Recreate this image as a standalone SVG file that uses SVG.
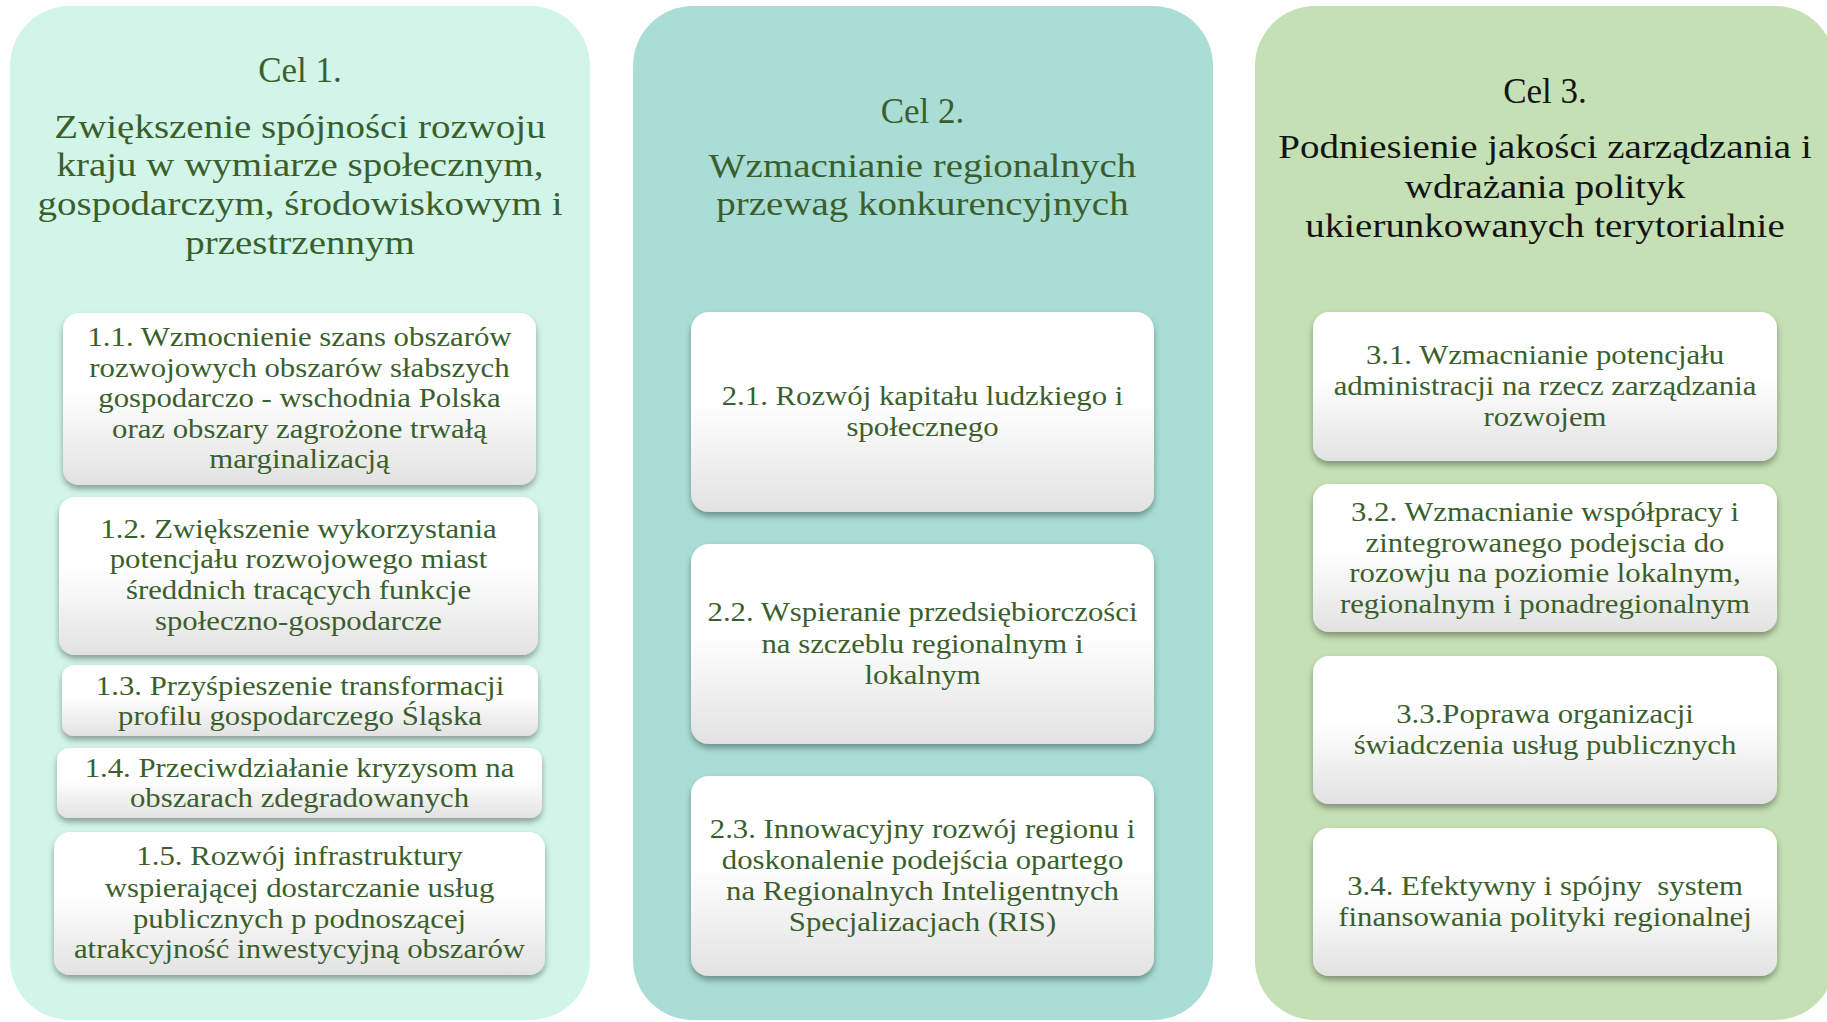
<svg xmlns="http://www.w3.org/2000/svg" width="1827" height="1022" viewBox="0 0 1827 1022">
<style>
.t{font-family:"Liberation Serif","Times New Roman",serif;font-size:34.5px;fill:#3B5F2C;text-anchor:middle}
.c{font-size:35px}
.t3{fill:#141414}
.s{font-family:"Liberation Serif","Times New Roman",serif;font-size:27px;fill:#3B5F2C;text-anchor:middle}
.box{fill:url(#bg);filter:url(#sh)}
</style>
<defs>
<linearGradient id="bg" x1="0" y1="0" x2="0" y2="1">
<stop offset="0" stop-color="#FFFFFF"/>
<stop offset="0.45" stop-color="#FFFFFF"/>
<stop offset="1" stop-color="#E2E2E2"/>
</linearGradient>
<filter id="sh" x="-10%" y="-10%" width="120%" height="130%">
<feDropShadow dx="0" dy="4" stdDeviation="3" flood-color="#000" flood-opacity="0.35"/>
</filter>
</defs>
<rect width="1827" height="1022" fill="#FFFFFF"/>

<g id="panel1">
<rect x="10" y="6" width="580" height="1014" rx="60" fill="#D2F5EA"/>
<text class="t c" x="300" y="82">Cel 1.</text>
<text class="t" transform="translate(300 0) scale(1.13 1)"><tspan x="0" y="138">Zwiększenie spójności rozwoju</tspan><tspan x="0" y="176">kraju w wymiarze społecznym,</tspan><tspan x="0" y="215">gospodarczym, środowiskowym i</tspan><tspan x="0" y="254">przestrzennym</tspan></text>
</g>
<g id="panel2">
<rect x="633" y="6" width="580" height="1014" rx="60" fill="#A9DDD6"/>
<text class="t c" x="922.5" y="123">Cel 2.</text>
<text class="t" transform="translate(922.5 0) scale(1.13 1)"><tspan x="0" y="177">Wzmacnianie regionalnych</tspan><tspan x="0" y="215">przewag konkurencyjnych</tspan></text>
</g>
<g id="panel3">
<rect x="1255" y="6" width="580" height="1014" rx="60" fill="#C5E0B4"/>
<text class="t c t3" x="1545" y="103">Cel 3.</text>
<text class="t t3" transform="translate(1545 0) scale(1.13 1)"><tspan x="0" y="158">Podniesienie jakości zarządzania i</tspan><tspan x="0" y="198">wdrażania polityk</tspan><tspan x="0" y="237">ukierunkowanych terytorialnie</tspan></text>
</g>

<g id="n1-1">
<rect class="box" x="63" y="313" width="473" height="172" rx="16"/>
<text class="s" transform="translate(299.5 0) scale(1.14 1)"><tspan x="0" y="346">1.1. Wzmocnienie szans obszarów</tspan><tspan x="0" y="377">rozwojowych obszarów słabszych</tspan><tspan x="0" y="407">gospodarczo - wschodnia Polska</tspan><tspan x="0" y="438">oraz obszary zagrożone trwałą</tspan><tspan x="0" y="468">marginalizacją</tspan></text>
</g>
<g id="n1-2">
<rect class="box" x="59" y="497" width="479" height="158" rx="16"/>
<text class="s" transform="translate(298.5 0) scale(1.14 1)"><tspan x="0" y="538">1.2. Zwiększenie wykorzystania</tspan><tspan x="0" y="568">potencjału rozwojowego miast</tspan><tspan x="0" y="599">średdnich tracących funkcje</tspan><tspan x="0" y="630">społeczno-gospodarcze</tspan></text>
</g>
<g id="n1-3">
<rect class="box" x="62" y="665" width="476" height="71" rx="12"/>
<text class="s" transform="translate(300 0) scale(1.14 1)"><tspan x="0" y="695">1.3. Przyśpieszenie transformacji</tspan><tspan x="0" y="725">profilu gospodarczego Śląska</tspan></text>
</g>
<g id="n1-4">
<rect class="box" x="57" y="748" width="485" height="70" rx="12"/>
<text class="s" transform="translate(299.5 0) scale(1.14 1)"><tspan x="0" y="777">1.4. Przeciwdziałanie kryzysom na</tspan><tspan x="0" y="807">obszarach zdegradowanych</tspan></text>
</g>
<g id="n1-5">
<rect class="box" x="54" y="832" width="491" height="143" rx="16"/>
<text class="s" transform="translate(299.5 0) scale(1.14 1)"><tspan x="0" y="865">1.5. Rozwój infrastruktury</tspan><tspan x="0" y="897">wspierającej dostarczanie usług</tspan><tspan x="0" y="928">publicznych p podnoszącej</tspan><tspan x="0" y="958">atrakcyjność inwestycyjną obszarów</tspan></text>
</g>

<g id="n2-1">
<rect class="box" x="691" y="312" width="463" height="200" rx="18"/>
<text class="s" transform="translate(922.5 0) scale(1.14 1)"><tspan x="0" y="405">2.1. Rozwój kapitału ludzkiego i</tspan><tspan x="0" y="436">społecznego</tspan></text>
</g>
<g id="n2-2">
<rect class="box" x="691" y="544" width="463" height="200" rx="18"/>
<text class="s" transform="translate(922.5 0) scale(1.14 1)"><tspan x="0" y="621">2.2. Wspieranie przedsiębiorczości</tspan><tspan x="0" y="653">na szczeblu regionalnym i</tspan><tspan x="0" y="684">lokalnym</tspan></text>
</g>
<g id="n2-3">
<rect class="box" x="691" y="776" width="463" height="200" rx="18"/>
<text class="s" transform="translate(922.5 0) scale(1.14 1)"><tspan x="0" y="838">2.3. Innowacyjny rozwój regionu i</tspan><tspan x="0" y="869">doskonalenie podejścia opartego</tspan><tspan x="0" y="900">na Regionalnych Inteligentnych</tspan><tspan x="0" y="931">Specjalizacjach (RIS)</tspan></text>
</g>

<g id="n3-1">
<rect class="box" x="1313" y="312" width="464" height="149" rx="16"/>
<text class="s" transform="translate(1545 0) scale(1.14 1)"><tspan x="0" y="364">3.1. Wzmacnianie potencjału</tspan><tspan x="0" y="395">administracji na rzecz zarządzania</tspan><tspan x="0" y="426">rozwojem</tspan></text>
</g>
<g id="n3-2">
<rect class="box" x="1313" y="484" width="464" height="148" rx="16"/>
<text class="s" transform="translate(1545 0) scale(1.14 1)"><tspan x="0" y="521">3.2. Wzmacnianie współpracy i</tspan><tspan x="0" y="552">zintegrowanego podejscia do</tspan><tspan x="0" y="582">rozowju na poziomie lokalnym,</tspan><tspan x="0" y="613">regionalnym i ponadregionalnym</tspan></text>
</g>
<g id="n3-3">
<rect class="box" x="1313" y="656" width="464" height="148" rx="16"/>
<text class="s" transform="translate(1545 0) scale(1.14 1)"><tspan x="0" y="723">3.3.Poprawa organizacji</tspan><tspan x="0" y="754">świadczenia usług publicznych</tspan></text>
</g>
<g id="n3-4">
<rect class="box" x="1313" y="828" width="464" height="148" rx="16"/>
<text class="s" xml:space="preserve" transform="translate(1545 0) scale(1.14 1)"><tspan x="0" y="895">3.4. Efektywny i spójny  system</tspan><tspan x="0" y="926">finansowania polityki regionalnej</tspan></text>
</g>

<g id="connectors"/>
</svg>
